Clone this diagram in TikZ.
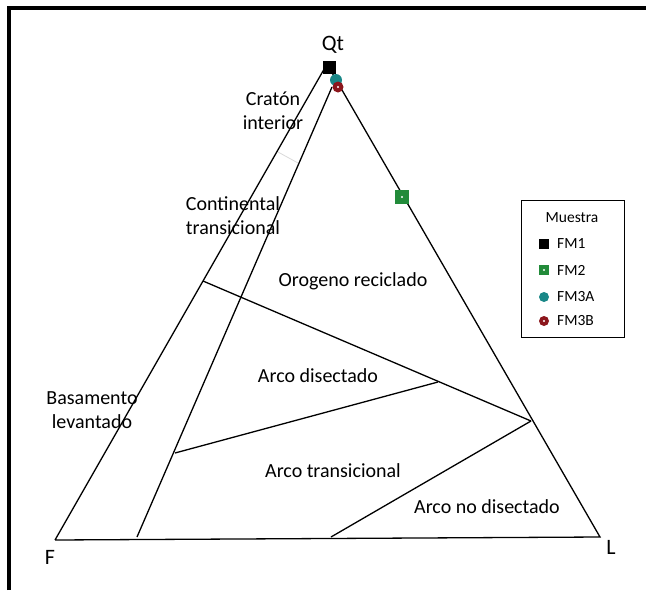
\documentclass[tikz,border=0pt]{standalone}
\usepackage{fontspec}
\setmainfont{Carlito}
\usetikzlibrary{calc}
\definecolor{fmgreen}{RGB}{34,139,58}
\definecolor{fmteal}{RGB}{25,135,135}
\definecolor{fmred}{RGB}{140,22,28}

\begin{document}
\begin{tikzpicture}[x=1pt,y=-1pt,
    field/.style={font=\fontsize{20}{24}\selectfont,align=center,inner sep=0pt},
    corner/.style={font=\fontsize{22}{24}\selectfont,inner sep=0pt},
    legtext/.style={font=\fontsize{15.5}{17}\selectfont,anchor=west,inner sep=0pt},
    sq/.style={rectangle,inner sep=0pt,minimum size=#1},
    dot/.style={circle,inner sep=0pt,minimum size=#1},
    hole/.style={circle,fill=white,inner sep=0pt,minimum size=2.2pt}]
      \useasboundingbox (0,0) rectangle (646,590);
      \draw[line width=4pt] (9,590) -- (9,8) -- (646,8);

      % vertices of the diagram
      \coordinate (qt) at (327,64);
      \coordinate (f) at (55,540);
      \coordinate (l) at (600,537);
      \coordinate (ci) at (137,537);
      \coordinate (ct) at (332,87);
      \coordinate (ba) at (203,281);
      \coordinate (rd) at (531,421);
      \coordinate (ad) at (438,382);
      \coordinate (at) at (175,453);
      \coordinate (nd) at (331,537);
      \coordinate (g1) at (278,152);
      \coordinate (g2) at (298,163);

      \begin{scope}[line width=1.3pt]
        \draw (f) -- (qt) -- (l) -- (f);
        \draw (ci) -- (ct);
        \draw (ba) -- (rd);
        \draw (at) -- (ad);
        \draw (nd) -- (rd);
      \end{scope}
      \draw[gray!30,line width=0.8pt] (g1) -- (g2);

      % labels
      \node[corner] (lqt) at (333,45) {Qt};
      \node[corner] (lf) at (50,557) {F};
      \node[corner] (ll) at (611,547) {L};
      \node[field] (craton) at (273,111) {Cratón\\interior};
      \node[field] (cont) at (233,216) {Continental\\transicional};
      \node[field] (orog) at (353,281) {Orogeno reciclado};
      \node[field] (adis) at (318,376) {Arco disectado};
      \node[field] (basa) at (92,410) {Basamento\\levantado};
      \node[field] (atra) at (333,471) {Arco transicional};
      \node[field] (ando) at (487,507) {Arco no disectado};

      % samples
      \node[sq=13pt,fill=black] (fm1) at (329,67) {};
      \node[dot=12pt,fill=fmteal] (fm3a) at (336,80) {};
      \node[dot=11pt,fill=fmred] (fm3b) at (338,87) {};
      \node[hole] at (fm3b) {};
      \node[sq=14pt,fill=fmgreen] (fm2) at (402,197) {};
      \node[hole] at (fm2) {};

      % legend
      \draw[line width=1pt] (521,200) rectangle (624,337);
      \node[font=\fontsize{15.5}{17}\selectfont] (muestra) at (572,218) {Muestra};
      \node[sq=10pt,fill=black] (k1) at (544,244) {};
      \node[legtext] at (557,244) {FM1};
      \node[sq=10pt,fill=fmgreen] (k2) at (544,270) {};
      \node[hole] at (k2) {};
      \node[legtext] at (557,270) {FM2};
      \node[dot=10pt,fill=fmteal] (k3) at (544,297) {};
      \node[legtext] at (557,297) {FM3A};
      \node[dot=10pt,fill=fmred] (k4) at (544,321) {};
      \node[hole] at (k4) {};
      \node[legtext] at (557,321) {FM3B};
    \end{tikzpicture}
\end{document}
